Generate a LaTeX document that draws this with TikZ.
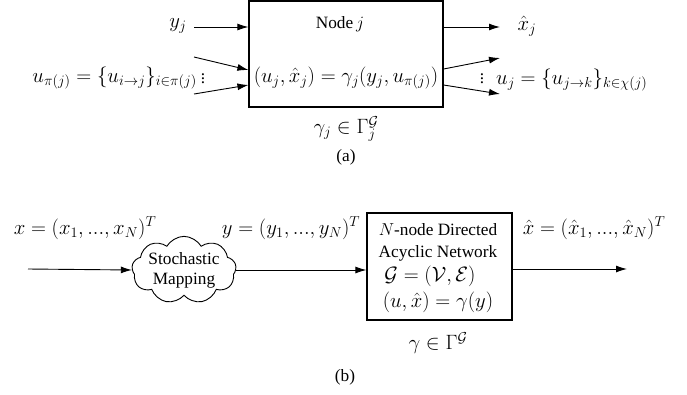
\documentclass[tikz,border=0pt]{standalone}
\usepackage[no-math]{fontspec}
\setmainfont{Liberation Serif}
\usetikzlibrary{arrows.meta,shapes.symbols}

\tikzset{
  block/.style={draw, line width=1.2pt, inner sep=0pt},
  flow/.style={line width=0.9pt, -{Latex[length=11pt,width=7pt]}},
  lbl/.style={inner sep=0pt},
  mathlbl/.style={inner sep=0pt, font=\fontsize{20.74}{24}\selectfont}
}

\begin{document}
\begin{tikzpicture}[x=1pt, y=-1pt, font=\fontsize{17.28}{20}\selectfont]
\useasboundingbox (0,0) rectangle (687,394);

% ---------- (a) single node ----------
\node[block, minimum width=194pt, minimum height=106pt] (nodej) at (346,54) {};
\node[lbl] (nodetitle) at (340,24) {Node\,$j$};
\node[mathlbl] (nodeeq) at (346,78) {$(u_j,\hat{x}_j)=\gamma_j(y_j,u_{\pi(j)})$};

% inputs
\node[mathlbl] (yjlab) at (178,26) {$y_j$};
\coordinate (yjin) at (194,27);
\draw[flow] (yjin) -- (nodej.west |- yjin);

\coordinate (uinA) at (194,57);
\coordinate (uinB) at (194,94);
\coordinate (uendA) at (nodej.west |- 0,70);
\coordinate (uendB) at (nodej.west |- 0,85);
\draw[flow] (uinA) -- (uendA);
\draw[flow] (uinB) -- (uendB);
\node[mathlbl, anchor=east] (ulab) at (197,78) {$u_{\pi(j)}=\{u_{i\to j}\}_{i\in\pi(j)}$};
\node[lbl] (dotsin) at (203,76) {$\vdots$};

% outputs
\coordinate (xjout) at (500,27);
\draw[flow] (nodej.east |- xjout) -- (xjout);
\node[mathlbl] (xjlab) at (527,26) {$\hat{x}_j$};

\coordinate (ustartA) at (nodej.east |- 0,69);
\coordinate (ustartB) at (nodej.east |- 0,85);
\coordinate (uoutA) at (500,58);
\coordinate (uoutB) at (500,94);
\draw[flow] (ustartA) -- (uoutA);
\draw[flow] (ustartB) -- (uoutB);
\node[lbl] (dotsout) at (482,76) {$\vdots$};
\node[mathlbl, anchor=west] (uoutlab) at (496,80) {$u_j=\{u_{j\to k}\}_{k\in\chi(j)}$};

\node[mathlbl] (gammaj) at (346,129) {$\gamma_j\in\Gamma_j^{\mathcal{G}}$};
\node[lbl] (capa) at (346,157) {(a)};

% ---------- (b) whole network ----------
\node[mathlbl] (xlab) at (85,228) {$x=(x_1,...,x_N)^T$};
\coordinate (xin) at (28,269);
\node[cloud, draw, line width=0.9pt, cloud puffs=9, cloud puff arc=120,
      cloud ignores aspect, minimum width=103pt, minimum height=60pt,
      inner sep=0pt, align=center]
      (cloudmap) at (184,270) {Stochastic\\Mapping};
\draw[flow] (xin) -- (cloudmap.west);

\node[mathlbl] (ylab) at (291,228) {$y=(y_1,...,y_N)^T$};

\node[block, minimum width=145pt, minimum height=107pt] (dag) at (439.5,266.5) {};
\node[lbl] (dagA) at (438,230) {$N$-node Directed};
\node[lbl] (dagB) at (438,253) {Acyclic Network};
\node[mathlbl] (dagC) at (430,276) {$\mathcal{G}=(\mathcal{V},\mathcal{E})$};
\node[mathlbl] (dagD) at (438,302) {$(u,\hat{x})=\gamma(y)$};
\draw[flow] (cloudmap.east) -- (dag.west |- cloudmap.east);

\coordinate (xhatout) at (627,269);
\draw[flow] (dag.east |- xhatout) -- (xhatout);
\node[mathlbl] (xhatlab) at (594,228) {$\hat{x}=(\hat{x}_1,...,\hat{x}_N)^T$};

\node[mathlbl] (gammaG) at (438,343) {$\gamma\in\Gamma^{\mathcal{G}}$};
\node[lbl] (capb) at (345,377) {(b)};
\end{tikzpicture}
\end{document}
